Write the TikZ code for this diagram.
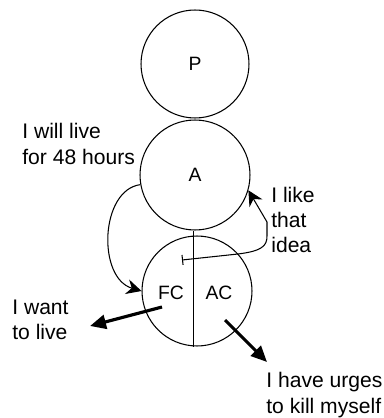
\documentclass[tikz,border=0pt]{standalone}
\usepackage{fontspec}
\setmainfont{Liberation Sans}
\usetikzlibrary{arrows.meta, positioning, calc}
\tikzset{
	bubble/.style={circle, draw=black, line width=0.6pt, minimum size=2.2cm, inner sep=0pt},
	said/.style  ={align=left, inner sep=0pt, anchor=west, font=\fontsize{12}{14.4}\selectfont},
	egolbl/.style={inner sep=0pt, font=\fontsize{11}{13}\selectfont},
	rim/.style   ={line width=0.6pt},
	push/.style  ={-{Triangle[length=3.2mm, width=2.8mm]}, line width=1.8pt},
	trans/.style ={-{Stealth[length=3mm, width=3mm]}, line width=0.6pt},
}
\begin{document}
\begin{tikzpicture}[x=0.02cm, y=-0.02cm]
	\useasboundingbox (0,0) rectangle (383,418);
	% ego states
	\node[bubble, minimum size=2.16cm] (P) at (195,64) {};
	\node[egolbl] at (P) {P};
	\node[bubble] (A) at (195,175) {};
	\node[egolbl] at (A) {A};
	\node[bubble] (C) at (197,291) {};
	\coordinate (split) at ($(A.south)+(-1.5,0)$);
	\draw[rim] (split) -- (split |- C.south);
	\node[egolbl] (FC) at (171,293) {FC};
	\node[egolbl] (AC) at (219,293) {AC};
	% what is said
	\node[said] (will) at (22,144) {I will live\\for 48 hours};
	\node[said] (like) at (271,220) {I like\\that\\idea};
	\node[said] (want) at (12,320) {I want\\to live};
	\node[said] (urges) at (266,395) {I have urges\\to kill myself};
	% transactions
	\coordinate (tick) at (182,260);
	\coordinate (fcTail) at (162,307);
	\coordinate (fcHead) at (90,326);
	\coordinate (acTail) at (225,320);
	\coordinate (acHead) at (267,362);
	\draw[trans] (A.190) .. controls (100,190) and (97,278) .. (C.180);
	\draw[trans, {Bar[width=2mm]}-{Stealth[length=3mm, width=3mm]}] (tick) -- (238,254)
		.. controls (262,251) and (267,246) .. (267,236) -- (267,222) -- (A.344);
	\draw[push] (fcTail) -- (fcHead);
	\draw[push] (acTail) -- (acHead);
\end{tikzpicture}
\end{document}
